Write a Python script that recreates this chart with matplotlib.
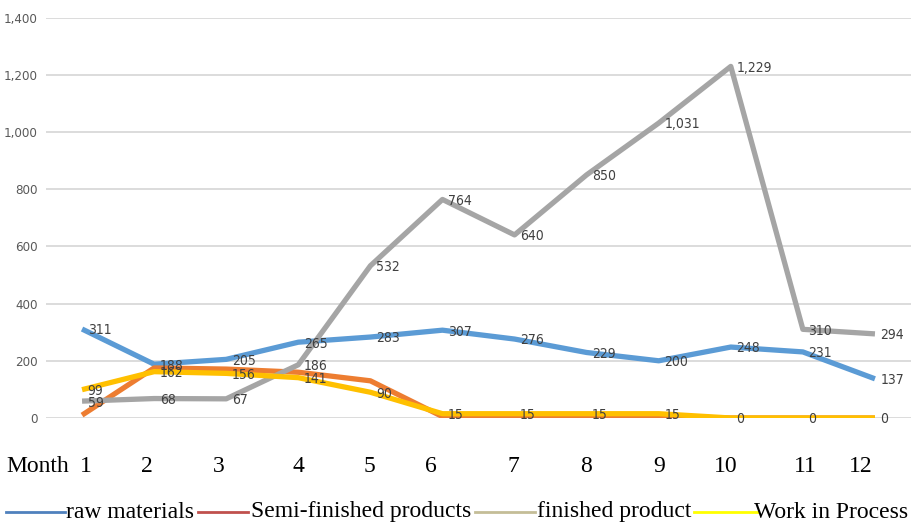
import matplotlib.pyplot as plt
from matplotlib.lines import Line2D

# monthly stock levels
months = list(range(1, 13))
raw_materials = [311, 188, 205, 265, 283, 307, 276, 229, 200, 248, 231, 137]
semi_finished = [10, 175, 171, 160, 130, 5, 5, 5, 5, 0, 0, 0]
finished_product = [59, 68, 67, 186, 532, 764, 640, 850, 1031, 1229, 310, 294]
work_in_process = [99, 162, 156, 141, 90, 15, 15, 15, 15, 0, 0, 0]

y_ticks = [0, 200, 400, 600, 800, 1000, 1200, 1400]
legend_names = ["raw materials", "Semi-finished products", "finished product", "Work in Process"]
legend_colors = ["#4f81bd", "#c0504d", "#c4bd97", "#ffff00"]

W, H = 911, 525
narrow = ["Liberation Sans Narrow", "DejaVu Sans"]
serif = ["Liberation Serif", "DejaVu Serif"]

fig = plt.figure(figsize=(W / 100, H / 100), dpi=100)
ax = fig.add_axes([46 / W, 107 / H, (W - 46) / W, 400.5 / H])

series = [
    (raw_materials, "#5b9bd5", True),
    (semi_finished, "#ed7d31", False),
    (finished_product, "#a5a5a5", True),
    (work_in_process, "#ffc000", True),
]
for values, color, labelled in series:
    ax.plot(months, values, color=color, lw=3.8, solid_joinstyle="round",
            solid_capstyle="butt")
for values, color, labelled in series:
    if not labelled:
        continue
    for m, v in zip(months, values):
        ax.annotate(f"{v:,}", (m, v), xytext=(4, -1), textcoords="offset points",
                    ha="left", va="center", fontsize=10, color="#404040",
                    family=narrow, fontstretch="condensed")

ax.set_xlim(0.5, 12.5)
ax.set_ylim(0, 1400)
ax.set_yticks(y_ticks)
ax.set_yticklabels([f"{t:,}" for t in y_ticks], family=narrow,
                   fontstretch="condensed", fontsize=9.5, color="#595959")
ax.set_xticks([])
ax.tick_params(axis="y", length=0, pad=6)
ax.yaxis.grid(True, color="#d9d9d9", lw=1.3)
ax.set_axisbelow(True)
for s in ax.spines.values():
    s.set_visible(False)

# month row under the chart
fig.text(6 / W, 1 - 467 / H, "Month", family=serif, fontsize=17,
         ha="left", va="center")
month_label_x = [86, 147, 219, 298, 369, 431, 513, 586, 659, 726, 805, 861]
for m, x in zip(months, month_label_x):
    fig.text(x / W, 1 - 467 / H, str(m), family=serif, fontsize=17,
             ha="center", va="center")

# hand-made legend row
line_spans = [(6, 65), (198, 248), (475, 535), (694, 758)]
text_x = [66, 251, 537, 754]
ly = 1 - 512 / H
for name, color, (x0, x1), tx in zip(legend_names, legend_colors, line_spans, text_x):
    fig.add_artist(Line2D([x0 / W, x1 / W], [ly, ly], transform=fig.transFigure,
                          color=color, lw=2))
    fig.text(tx / W, ly, name, family=serif, fontsize=17, ha="left", va="center")

fig.savefig("out.png", dpi=100)
